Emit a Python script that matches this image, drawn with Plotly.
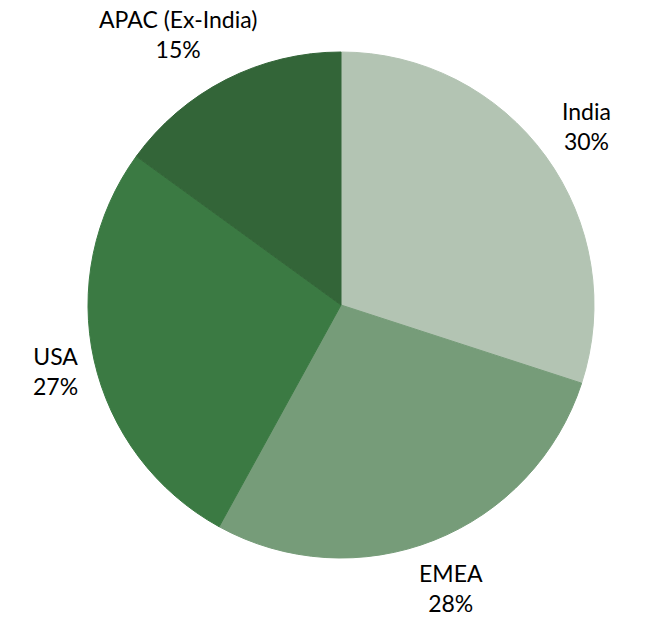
import math
import plotly.graph_objects as go

# Revenue share by region
regions = ["India", "EMEA", "USA", "APAC (Ex-India)"]
shares = [30, 28, 27, 15]
colors = ["#B3C4B3", "#769C79", "#3B7A43", "#336538"]

W, H = 645, 617
cx, cy, R = 341, 305, 253          # pie centre and radius in pixels
label_r = 276                      # distance of label anchor from centre
font = dict(family="Lato, Open Sans, sans-serif", size=23, color="#000000")

fig = go.Figure(go.Pie(
    labels=regions,
    values=shares,
    sort=False,
    direction="clockwise",
    rotation=0,
    marker=dict(colors=colors, line=dict(width=1, color=colors)),
    textinfo="none",
    hoverinfo="label+percent",
    domain=dict(x=[(cx - R) / W, (cx + R) / W],
                y=[1 - (cy + R) / H, 1 - (cy - R) / H]),
    showlegend=False,
))

# Outside labels positioned from each slice's mid-angle
total = sum(shares)
cum = 0
for name, v in zip(regions, shares):
    mid = (cum + v / 2) / total * 2 * math.pi
    cum += v
    dx, dy = math.sin(mid), -math.cos(mid)
    w = 11.0 * len(name)
    h = 56
    px = cx + label_r * dx + w / 2 * dx
    py = cy + label_r * dy + h / 2 * dy
    pct = round(v / total * 100)
    fig.add_annotation(
        x=px / W, y=1 - py / H, xref="paper", yref="paper",
        text=f"{name}<br>{pct}%", showarrow=False,
        xanchor="center", yanchor="middle", align="center",
        font=font,
    )

fig.update_layout(
    width=W, height=H,
    margin=dict(l=0, r=0, t=0, b=0),
    paper_bgcolor="white",
    plot_bgcolor="white",
)

fig.write_html("out.html")
